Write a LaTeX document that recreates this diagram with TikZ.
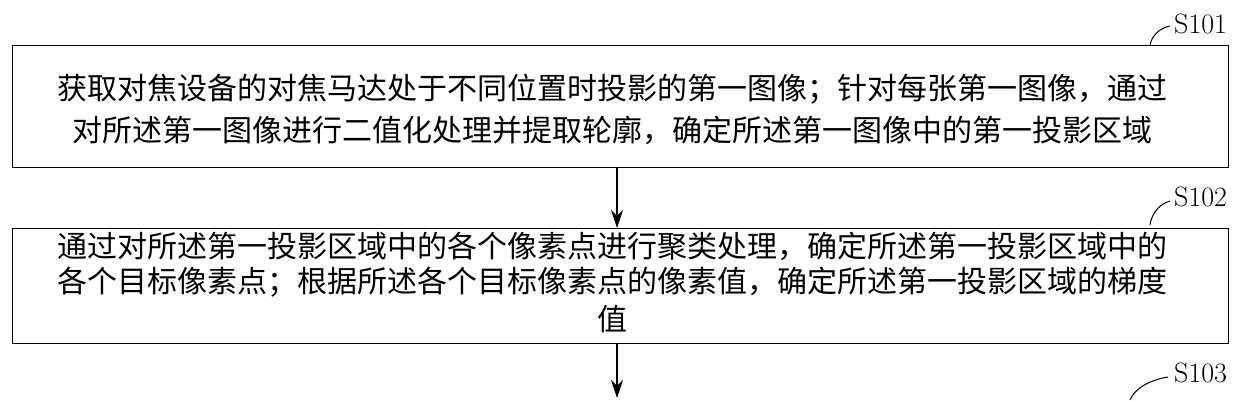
\documentclass[tikz,border=0pt]{standalone}
\usepackage{fontspec}
\newfontfamily\cjk{Noto Sans CJK SC}
\usetikzlibrary{arrows.meta}
\begin{document}
\begin{tikzpicture}[x=1pt,y=-1pt,
  box/.style={draw,line width=1.2pt},
  txt/.style={font=\cjk\fontsize{30}{36}\selectfont,inner sep=0pt},
  lab/.style={font=\fontsize{28}{32}\selectfont\rmfamily,anchor=west,inner sep=0pt},
  arr/.style={line width=1.2pt,-{Stealth[length=18pt,width=12pt]}},
  hook/.style={line width=1pt}]
\useasboundingbox (0,0) rectangle (1242,400);
\node[box,minimum width=1216pt,minimum height=122pt,anchor=north west] (b1) at (12,45) {};
\node[txt] (t11) at (612,89) {获取对焦设备的对焦马达处于不同位置时投影的第一图像；针对每张第一图像，通过};
\node[txt] (t12) at (612,130) {对所述第一图像进行二值化处理并提取轮廓，确定所述第一图像中的第一投影区域};
\node[box,minimum width=1216pt,minimum height=115pt,anchor=north west] (b2) at (12,228) {};
\node[txt] (t21) at (612,246) {通过对所述第一投影区域中的各个像素点进行聚类处理，确定所述第一投影区域中的};
\node[txt] (t22) at (612,282) {各个目标像素点；根据所述各个目标像素点的像素值，确定所述第一投影区域的梯度};
\node[txt] (t23) at (612,319) {值};
\coordinate (e3) at (617,398);
\draw[arr] (617,167) -- (617,228);
\draw[arr] (617,343) -- (e3);
\node[lab] (s1) at (1174,24) {S101};
\node[lab] (s2) at (1174,197) {S102};
\node[lab] (s3) at (1174,373) {S103};
\draw[hook] (1150,45) .. controls (1152,35) and (1160,28) .. (1170,26);
\draw[hook] (1150,225) .. controls (1152,212) and (1160,204) .. (1170,201);
\draw[hook] (1130,400) .. controls (1135,388) and (1150,380) .. (1168,377);
\end{tikzpicture}
\end{document}
